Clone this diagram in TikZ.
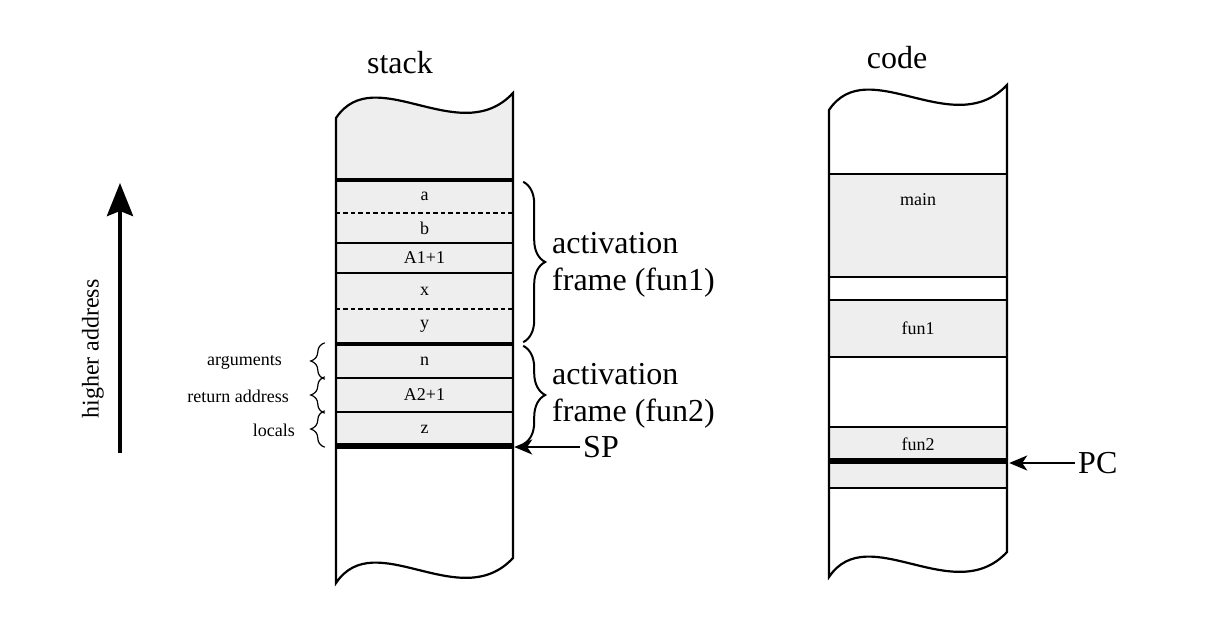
\documentclass[tikz,border=0pt]{standalone}
\usepackage{fontspec}
\setmainfont{Liberation Serif}
\usetikzlibrary{decorations.pathreplacing,arrows.meta}
\definecolor{cellgray}{RGB}{238,238,238}
\newcommand{\cellfont}{\fontsize{18}{20}\selectfont}
\newcommand{\bigfont}{\fontsize{32}{37}\selectfont}
\newcommand{\addrfont}{\fontsize{24}{28}\selectfont}
\tikzset{
  cell/.style={fill=cellgray,minimum width=177pt,inner sep=0pt,font=\cellfont},
  sep/.style={line width=1.8pt},
  septhick/.style={line width=4pt},
  spthick/.style={line width=5.5pt},
  sepdash/.style={line width=1.8pt,dash pattern=on 4.5pt off 3pt},
  wall/.style={line width=2.2pt},
  ptr/.style={line width=2.2pt,-{Stealth[length=18pt,width=15pt,inset=5pt]}},
  uparrow/.style={line width=4.5pt,-{Stealth[length=33pt,width=26pt,inset=5pt]}},
  bigbrace/.style={decorate,decoration={brace,amplitude=22pt},line width=2pt},
  smallbrace/.style={decorate,decoration={brace,amplitude=14pt},line width=1.2pt},
  sidelabel/.style={anchor=east,inner sep=0pt,font=\cellfont},
}
\begin{document}
\begin{tikzpicture}[x=1pt,y=-1pt]
\useasboundingbox (0,0) rectangle (1209,629);
% stack column
\fill[cellgray] (336,180) -- (336,118) .. controls (375,60) and (460,150) .. (513,93) -- (513,180) -- cycle;
\node[cell,minimum height=33pt] (a) at (424.5,196.5) {a};
\node[cell,minimum height=30pt] (b) at (424.5,228) {b};
\node[cell,minimum height=30pt] (ret1) at (424.5,258) {A1+1};
\node[cell,minimum height=36pt] (x) at (424.5,291) {x};
\node[cell,minimum height=35pt] (y) at (424.5,326.5) {y};
\node[cell,minimum height=34pt] (n) at (424.5,361) {n};
\node[cell,minimum height=34pt] (ret2) at (424.5,395) {A2+1};
\node[cell,minimum height=34pt] (z) at (424.5,429) {z};
\draw[septhick] (a.north west) -- (a.north east);
\draw[sepdash] (a.south west) -- (a.south east);
\draw[sep] (b.south west) -- (b.south east);
\draw[sep] (ret1.south west) -- (ret1.south east);
\draw[sepdash] (x.south west) -- (x.south east);
\draw[septhick] (y.south west) -- (y.south east);
\draw[sep] (n.south west) -- (n.south east);
\draw[sep] (ret2.south west) -- (ret2.south east);
\draw[spthick] (z.south west) -- (z.south east);
\draw[wall] (336,118) .. controls (375,60) and (460,150) .. (513,93) -- (513,558)
  .. controls (460,615) and (375,525) .. (336,583) -- cycle;
\node[font=\bigfont] (stacktitle) at (400,63) {stack};
% code column
\node[cell,minimum width=178pt,minimum height=103pt] (main) at (918,225.5) {};
\node[font=\cellfont] (mainlabel) at (918,200) {main};
\node[cell,minimum width=178pt,minimum height=57pt] (fun1) at (918,328.5) {fun1};
\node[cell,minimum width=178pt,minimum height=34pt] (fun2) at (918,444) {fun2};
\node[cell,minimum width=178pt,minimum height=25pt] (fun2b) at (918,475) {};
\draw[sep] (main.north west) -- (main.north east);
\draw[sep] (main.south west) -- (main.south east);
\draw[sep] (fun1.north west) -- (fun1.north east);
\draw[sep] (fun1.south west) -- (fun1.south east);
\draw[sep] (fun2.north west) -- (fun2.north east);
\draw[spthick] (fun2.south west) -- (fun2.south east);
\draw[sep] (fun2b.south west) -- (fun2b.south east);
\draw[wall] (829,110) .. controls (868,52) and (953,142) .. (1007,85) -- (1007,552)
  .. controls (954,609) and (868,519) .. (829,577) -- cycle;
\node[font=\bigfont] (codetitle) at (897,58) {code};
% frames
\draw[bigbrace] ([xshift=10pt,yshift=-2pt]a.north east) -- ([xshift=10pt,yshift=2pt]y.south east);
\draw[bigbrace] ([xshift=10pt,yshift=-2pt]n.north east) -- ([xshift=10pt,yshift=2pt]z.south east);
\node[font=\bigfont,anchor=west,align=left,inner sep=2pt] (frame1) at (550,265) {activation\\frame (fun1)};
\node[font=\bigfont,anchor=west,align=left,inner sep=2pt] (frame2) at (550,396) {activation\\frame (fun2)};
% left braces
\draw[smallbrace] ([xshift=-11pt,yshift=-1pt]n.south west) -- ([xshift=-11pt,yshift=1pt]n.north west);
\draw[smallbrace] ([xshift=-11pt,yshift=-1pt]ret2.south west) -- ([xshift=-11pt,yshift=1pt]ret2.north west);
\draw[smallbrace] ([xshift=-11pt,yshift=-1pt]z.south west) -- ([xshift=-11pt,yshift=1pt]z.north west);
\node[sidelabel] (args) at (282,362) {arguments};
\node[sidelabel] (retaddr) at (289,396) {return address};
\node[sidelabel] (locals) at (295,430) {locals};
% pointers
\node[font=\bigfont,anchor=west,inner sep=3pt] (sp) at (580,447) {SP};
\draw[ptr] (sp.west) -- ([xshift=1pt]sp.west -| z.east);
\node[font=\bigfont,anchor=west,inner sep=3pt] (pc) at (1075,463) {PC};
\draw[ptr] (pc.west) -- ([xshift=2pt]pc.west -| fun2.east);
% address direction
\coordinate (lowend) at (120,453);
\coordinate (highend) at (120,183);
\draw[uparrow] (lowend) -- (highend);
\node[font=\addrfont,rotate=90] (addr) at (93,349) {higher address};
\end{tikzpicture}
\end{document}
